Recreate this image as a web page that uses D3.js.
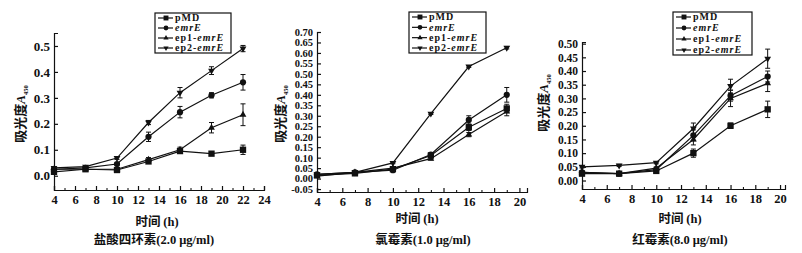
<!DOCTYPE html>
<html>
<head>
<meta charset="utf-8">
<script src="https://cdn.jsdelivr.net/npm/d3@7"></script>
<style>
  body { margin: 0; background: #fff; }
  svg { display: block; }
  text { font-family: "Liberation Serif", "DejaVu Serif", serif; fill: #111; }
  .cjk { font-family: "Noto Sans CJK SC", sans-serif; font-weight: 700; }
</style>
</head>
<body>
<div id="chart"></div>
<script>
// sampling times (h)
const hoursTetra = [4, 7, 10, 13, 16, 19, 22];
const hoursOther = [4, 7, 10, 13, 16, 19];
const seriesNames = ["pMD", "emrE", "ep1-emrE", "ep2-emrE"];

// 盐酸四环素
const tetraPMD  = [0.015, 0.025, 0.022, 0.055, 0.095, 0.085, 0.100];
const tetraEmrE = [0.025, 0.030, 0.045, 0.150, 0.245, 0.310, 0.360];
const tetraEp1  = [0.025, 0.025, 0.025, 0.062, 0.100, 0.185, 0.235];
const tetraEp2  = [0.030, 0.035, 0.068, 0.205, 0.320, 0.405, 0.490];
const tetraErrPMD  = [0.005, 0.004, 0.004, 0.006, 0.008, 0.005, 0.018];
const tetraErrEmrE = [0.004, 0.004, 0.005, 0.018, 0.022, 0.010, 0.030];
const tetraErrEp1  = [0.004, 0.004, 0.004, 0.008, 0.010, 0.020, 0.042];
const tetraErrEp2  = [0.004, 0.004, 0.005, 0.008, 0.020, 0.015, 0.012];

// 氯霉素
const chlorPMD  = [0.015, 0.025, 0.045, 0.110, 0.245, 0.335];
const chlorEmrE = [0.020, 0.030, 0.040, 0.115, 0.280, 0.400];
const chlorEp1  = [0.012, 0.030, 0.050, 0.095, 0.210, 0.320];
const chlorEp2  = [0.020, 0.030, 0.075, 0.310, 0.535, 0.625];
const chlorErrPMD  = [0.004, 0.004, 0.005, 0.006, 0.015, 0.020];
const chlorErrEmrE = [0.004, 0.004, 0.005, 0.008, 0.020, 0.035];
const chlorErrEp1  = [0.004, 0.004, 0.004, 0.006, 0.010, 0.020];
const chlorErrEp2  = [0.004, 0.004, 0.004, 0.004, 0.004, 0.006];

// 红霉素
const eryPMD  = [0.025, 0.025, 0.035, 0.100, 0.200, 0.260];
const eryEmrE = [0.030, 0.025, 0.040, 0.165, 0.310, 0.380];
const eryEp1  = [0.030, 0.025, 0.045, 0.150, 0.300, 0.355];
const eryEp2  = [0.050, 0.055, 0.065, 0.190, 0.345, 0.445];
const eryErrPMD  = [0.005, 0.004, 0.005, 0.015, 0.010, 0.030];
const eryErrEmrE = [0.004, 0.004, 0.005, 0.020, 0.020, 0.020];
const eryErrEp1  = [0.004, 0.004, 0.005, 0.020, 0.030, 0.030];
const eryErrEp2  = [0.004, 0.004, 0.004, 0.020, 0.025, 0.035];

const yTicksTetra = [0.0, 0.1, 0.2, 0.3, 0.4, 0.5];
const yTicksChlor = [-0.05, 0.00, 0.05, 0.10, 0.15, 0.20, 0.25, 0.30, 0.35, 0.40, 0.45, 0.50, 0.55, 0.60, 0.65, 0.70];
const yTicksEry   = [0.00, 0.05, 0.10, 0.15, 0.20, 0.25, 0.30, 0.35, 0.40, 0.45, 0.50];
const xTicksTetra = [4, 6, 8, 10, 12, 14, 16, 18, 20, 22, 24];
const xTicksOther = [4, 6, 8, 10, 12, 14, 16, 18, 20];

const panels = [
  { hours: hoursTetra, values: [tetraPMD, tetraEmrE, tetraEp1, tetraEp2],
    errors: [tetraErrPMD, tetraErrEmrE, tetraErrEp1, tetraErrEp2],
    xDomain: [4, 24], yDomain: [-0.055, 0.55], xTicks: xTicksTetra, yTicks: yTicksTetra, yFmt: ".1f",
    left: 54, right: 264, top: 33, bottom: 190, yFont: 13,
    legend: { x: 155, y: 13, w: 76, h: 40 },
    yTitle: { x: 25, y: 114 }, xTitle: { x: 157, y: 226 }, sub: { x: 154, y: 244 },
    subText: "盐酸四环素(2.0 μg/ml)" },
  { hours: hoursOther, values: [chlorPMD, chlorEmrE, chlorEp1, chlorEp2],
    errors: [chlorErrPMD, chlorErrEmrE, chlorErrEp1, chlorErrEp2],
    xDomain: [4, 20.6], yDomain: [-0.064, 0.70], xTicks: xTicksOther, yTicks: yTicksChlor, yFmt: ".2f",
    left: 317, right: 527, top: 32, bottom: 192, yFont: 10.5,
    legend: { x: 409, y: 12, w: 77, h: 41 },
    yTitle: { x: 285, y: 114 }, xTitle: { x: 417, y: 223 }, sub: { x: 423, y: 244 },
    subText: "氯霉素(1.0 μg/ml)" },
  { hours: hoursOther, values: [eryPMD, eryEmrE, eryEp1, eryEp2],
    errors: [eryErrPMD, eryErrEmrE, eryErrEp1, eryErrEp2],
    xDomain: [4, 20.4], yDomain: [-0.031, 0.506], xTicks: xTicksOther, yTicks: yTicksEry, yFmt: ".2f",
    left: 582, right: 785, top: 42, bottom: 189, yFont: 11.5,
    legend: { x: 673, y: 12, w: 79, h: 43 },
    yTitle: { x: 548, y: 103 }, xTitle: { x: 680, y: 223 }, sub: { x: 680, y: 244 },
    subText: "红霉素(8.0 μg/ml)" }
];

const svg = d3.select("#chart").append("svg")
  .attr("width", 802).attr("height", 253);

const markerTypes = [d3.symbolSquare, d3.symbolCircle, d3.symbolTriangle, d3.symbolTriangle];
const markerSizes = [40, 30, 20, 20];

function marker(g, i, x, y, scale) {
  g.append("path")
    .attr("d", d3.symbol().type(markerTypes[i]).size(markerSizes[i] * (scale || 1)))
    .attr("transform", `translate(${x},${y})` + (i === 3 ? " rotate(180)" : ""))
    .attr("fill", "#111");
}

function seriesLabel(t, name) {
  // "pMD" upright; emrE part italic
  if (name === "pMD") { t.append("tspan").text(name); return; }
  const k = name.indexOf("emrE");
  if (k > 0) t.append("tspan").text(name.slice(0, k));
  t.append("tspan").attr("font-style", "italic").text("emrE");
}

function drawPanel(p) {
  const g = svg.append("g");
  const x = d3.scaleLinear().domain(p.xDomain).range([p.left, p.right]);
  const y = d3.scaleLinear().domain(p.yDomain).range([p.bottom, p.top]);

  // x axis with minor ticks
  const xAxis = g.append("g").attr("transform", `translate(0,${p.bottom})`)
    .call(d3.axisBottom(x).tickValues(p.xTicks).tickSize(-4).tickPadding(5).tickFormat(d3.format("d")));
  g.append("g").attr("transform", `translate(0,${p.bottom})`)
    .call(d3.axisBottom(x).tickValues(d3.range(p.xDomain[0] + 1, p.xDomain[1], 2)).tickSize(-2).tickFormat(""))
    .select(".domain").remove();

  const yAxis = g.append("g").attr("transform", `translate(${p.left},0)`)
    .call(d3.axisLeft(y).tickValues(p.yTicks).tickSize(-4).tickPadding(4)
      .tickFormat(d => d3.format(p.yFmt)(d).replace("−", "-")));

  xAxis.selectAll("text").style("font-size", "12.5px");
  yAxis.selectAll("text").style("font-size", p.yFont + "px");
  [xAxis, yAxis].forEach(a => {
    a.selectAll("text").style("font-weight", "700")
      .style("font-family", "'Liberation Serif', serif").attr("fill", "#111");
    a.selectAll("line, .domain").attr("stroke", "#111").attr("stroke-width", 1.2);
  });

  // series
  const line = d3.line().x(d => x(d[0])).y(d => y(d[1]));
  p.values.forEach((vals, i) => {
    const pts = p.hours.map((h, j) => [h, vals[j], p.errors[i][j]]);
    g.append("path").datum(pts).attr("d", line)
      .attr("fill", "none").attr("stroke", "#111").attr("stroke-width", 1.2);
    const eb = g.append("g");
    pts.forEach(d => {
      const x0 = x(d[0]), y1 = y(d[1] + d[2]), y2 = y(d[1] - d[2]);
      eb.append("line").attr("x1", x0).attr("x2", x0).attr("y1", y1).attr("y2", y2)
        .attr("stroke", "#111").attr("stroke-width", 1);
      [y1, y2].forEach(yy => eb.append("line").attr("x1", x0 - 2.5).attr("x2", x0 + 2.5)
        .attr("y1", yy).attr("y2", yy).attr("stroke", "#111").attr("stroke-width", 1));
      marker(eb, i, x0, y(d[1]));
    });
  });

  // legend
  const L = p.legend;
  const lg = g.append("g");
  lg.append("rect").attr("x", L.x).attr("y", L.y).attr("width", L.w).attr("height", L.h)
    .attr("fill", "#fff").attr("stroke", "#111").attr("stroke-width", 1.2);
  const rowH = (L.h - 10) / 3;
  seriesNames.forEach((name, i) => {
    const yy = L.y + 5 + i * rowH;
    lg.append("line").attr("x1", L.x + 3).attr("x2", L.x + 18).attr("y1", yy).attr("y2", yy)
      .attr("stroke", "#111").attr("stroke-width", 1.2);
    marker(lg, i, L.x + 11, yy, 0.6);
    const t = lg.append("text").attr("x", L.x + 20).attr("y", yy + 3.2)
      .style("font-size", "10px").style("font-weight", "700").style("letter-spacing", "1px");
    seriesLabel(t, name);
  });

  // titles
  const yt = g.append("text").attr("transform", `translate(${p.yTitle.x},${p.yTitle.y}) rotate(-90)`)
    .attr("text-anchor", "middle").style("font-size", "13px");
  yt.append("tspan").attr("class", "cjk").text("吸光度");
  yt.append("tspan").attr("font-style", "italic").style("font-weight", "700").text("A");
  yt.append("tspan").attr("dy", 3).style("font-size", "6.5px").style("font-weight", "700").text("450");

  const xt = g.append("text").attr("x", p.xTitle.x).attr("y", p.xTitle.y)
    .attr("text-anchor", "middle").style("font-size", "12.5px");
  xt.append("tspan").attr("class", "cjk").text("时间 ");
  xt.append("tspan").style("font-weight", "700").text("(h)");

  const st = g.append("text").attr("x", p.sub.x).attr("y", p.sub.y)
    .attr("text-anchor", "middle").style("font-size", "12.5px");
  const k = p.subText.indexOf("(");
  st.append("tspan").attr("class", "cjk").text(p.subText.slice(0, k));
  st.append("tspan").style("font-weight", "700").text(p.subText.slice(k));
}

panels.forEach(drawPanel);
</script>
</body>
</html>
